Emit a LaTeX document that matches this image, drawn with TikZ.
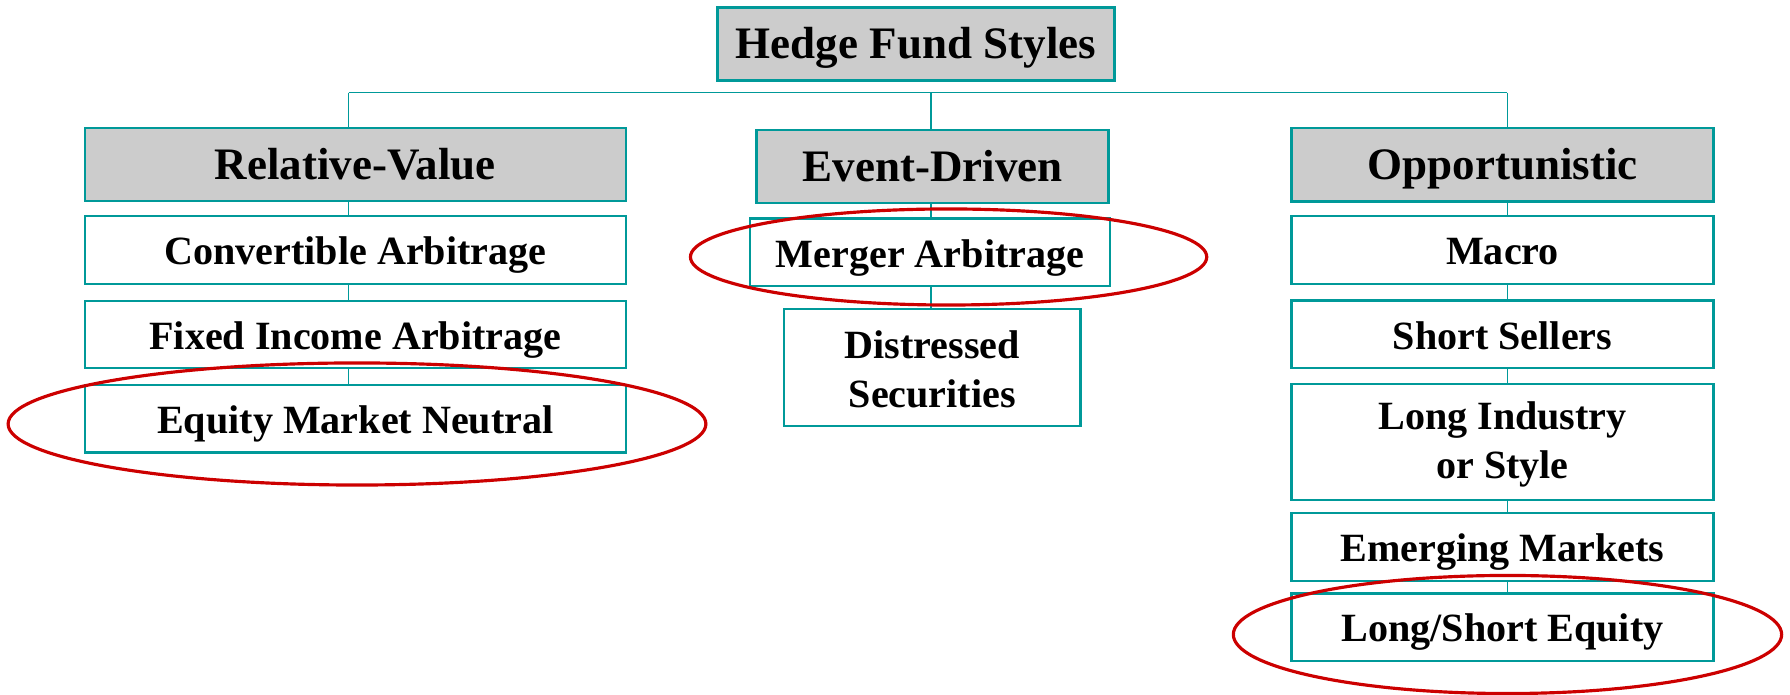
\documentclass[tikz,border=0pt]{standalone}
\usepackage{fontspec}
\setmainfont{Liberation Serif}
\definecolor{tealline}{RGB}{0,153,153}
\definecolor{headgray}{RGB}{204,204,204}
\definecolor{ringred}{RGB}{204,0,0}

\begin{document}
\begin{tikzpicture}[
        x=0.01cm, y=-0.01cm,
        link/.style={draw=tealline, line width=0.45pt},
        head_box/.style={draw=tealline, line width=0.65pt, fill=headgray, inner sep=0pt, minimum height=0.73cm, text height=0.84em, text depth=0pt, font=\fontsize{12.8}{15}\selectfont\bfseries},
        tall_box/.style={draw=tealline, line width=0.65pt, fill=white, inner sep=0pt, align=center, minimum height=0.675cm, font=\fontsize{11.4}{14}\selectfont\bfseries},
        item_box/.style={tall_box, text height=0.84em, text depth=0pt},
        mark_ring/.style={draw=ringred, line width=0.9pt}
    ]

    \useasboundingbox (0,0) rectangle (1790,695);

    % ========================================================
    % 1. JUDUL & GARIS CABANG
    % ========================================================
    \node[head_box, minimum width=3.97cm] (styles) at (916,44) {Hedge Fund Styles};

    \coordinate (rv_top) at (348.5,92.7);
    \coordinate (ed_top) at (931,92.7);
    \coordinate (op_top) at (1507.3,92.7);
    \draw[link] (rv_top) -- (op_top);

    % ========================================================
    % 2. RELATIVE-VALUE (KIRI)
    % ========================================================
    \node[head_box, minimum width=5.41cm] (rv) at (355.4,164.7) {Relative-Value};
    \node[item_box, minimum width=5.41cm] (conv) at (355.4,250) {Convertible Arbitrage};
    \node[item_box, minimum width=5.41cm] (fixed) at (355.4,334.5) {Fixed Income Arbitrage};
    \node[item_box, minimum width=5.41cm] (emn) at (355.4,418.8) {Equity Market Neutral};

    \draw[link] (rv_top) -- (rv_top |- rv.north);
    \foreach \a/\b in {rv/conv, conv/fixed, fixed/emn}
        \draw[link] (rv_top |- \a.south) -- (rv_top |- \b.north);

    % ========================================================
    % 3. EVENT-DRIVEN (TENGAH)
    % ========================================================
    \node[head_box, minimum width=3.52cm] (ed) at (932.5,166.3) {Event-Driven};
    \node[item_box, minimum width=3.6cm] (merger) at (930,252.3) {Merger Arbitrage};
    \node[tall_box, minimum width=2.96cm, minimum height=1.167cm] (distress) at (932.3,367.5) {\rule{0pt}{0.8em}Distressed\\Securities};

    \draw[link] (ed_top) -- (ed_top |- ed.north);
    \foreach \a/\b in {ed/merger, merger/distress}
        \draw[link] (ed_top |- \a.south) -- (ed_top |- \b.north);

    % ========================================================
    % 4. OPPORTUNISTIC (KANAN)
    % ========================================================
    \node[head_box, minimum width=4.22cm] (opp) at (1502.5,164.85) {Opportunistic};
    \node[item_box, minimum width=4.22cm] (macro) at (1502.5,250) {Macro};
    \node[item_box, minimum width=4.22cm] (short) at (1502.5,334.3) {Short Sellers};
    \node[tall_box, minimum width=4.22cm, minimum height=1.16cm] (industry) at (1502.5,442) {\rule{0pt}{0.8em}Long Industry\\or Style};
    \node[item_box, minimum width=4.22cm] (emerging) at (1502.5,547) {Emerging Markets};
    \node[item_box, minimum width=4.22cm] (lse) at (1502.5,627.2) {Long/Short Equity};

    \draw[link] (op_top) -- (op_top |- opp.north);
    \foreach \a/\b in {opp/macro, macro/short, short/industry, industry/emerging, emerging/lse}
        \draw[link] (op_top |- \a.south) -- (op_top |- \b.north);

    % ========================================================
    % 5. LINGKARAN PENANDA
    % ========================================================
    \draw[mark_ring] (357,424) ellipse [x radius=3.487cm, y radius=0.61cm];
    \draw[mark_ring] (948.6,257) ellipse [x radius=2.58cm, y radius=0.48cm];
    \draw[mark_ring] (1507.5,634.5) ellipse [x radius=2.74cm, y radius=0.59cm];

\end{tikzpicture}
\end{document}
